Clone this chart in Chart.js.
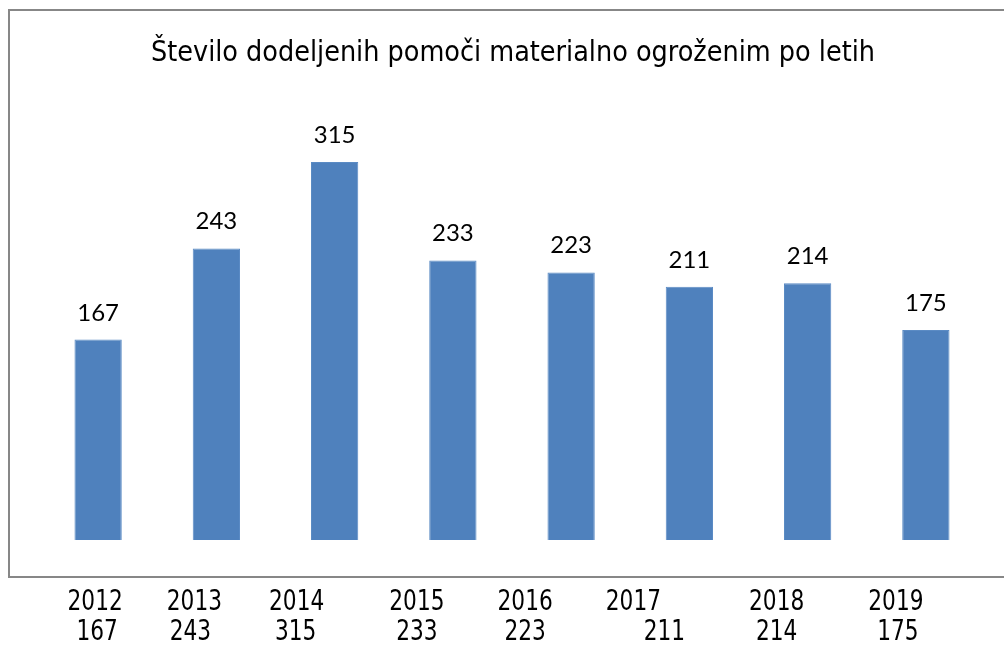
<!DOCTYPE html>
<html>
<head>
<meta charset="utf-8">
<script src="https://cdn.jsdelivr.net/npm/chart.js@4/dist/chart.umd.min.js"></script>
<style>
  html, body { margin: 0; padding: 0; background: #fff; }
  #wrap { width: 1004px; height: 646px; }
</style>
</head>
<body>
<div id="wrap"><canvas id="chart"></canvas></div>
<script>
const years = ['2012', '2013', '2014', '2015', '2016', '2017', '2018', '2019'];
const values = [167, 243, 315, 233, 223, 211, 214, 175];
const title = 'Število dodeljenih pomoči materialno ogroženim po letih';

// the labels under the frame are not centred on the bars in the original
const yearShift = [-3, -22, -38, -36, -46, -56, -31, -30];
const valueShift = [-1, -26, -39, -36, -46, -25, -31, -28];

const narrow = '"DejaVu Sans Condensed", "DejaVu Sans", sans-serif';

// draw text squeezed horizontally, like the original's Tahoma
function squeezed(ctx, text, x, y, sx) {
    ctx.save();
    ctx.translate(x, y);
    ctx.scale(sx, 1);
    ctx.fillText(text, 0, 0);
    ctx.restore();
}

const decorations = {
    id: 'decorations',
    beforeDraw(chart) {
        const ctx = chart.ctx;
        ctx.save();
        ctx.fillStyle = '#fff';
        ctx.fillRect(0, 0, chart.width, chart.height);
        ctx.strokeStyle = '#878787';
        ctx.lineWidth = 2;
        ctx.strokeRect(9, 10, 1020, 567);

        ctx.fillStyle = '#000';
        ctx.textAlign = 'center';
        ctx.textBaseline = 'alphabetic';
        ctx.font = '29px ' + narrow;
        squeezed(ctx, title, 513, 61, 0.98);
        ctx.restore();
    },
    afterDatasetsDraw(chart) {
        const ctx = chart.ctx;
        const bars = chart.getDatasetMeta(0).data;
        ctx.save();
        ctx.fillStyle = '#000';
        ctx.textAlign = 'center';
        ctx.textBaseline = 'alphabetic';

        ctx.font = '24px Lato, "Open Sans", sans-serif';
        bars.forEach((bar, i) => {
            ctx.fillText(String(values[i]), bar.x, bar.y - 19);
        });

        ctx.font = '28px ' + narrow;
        bars.forEach((bar, i) => {
            squeezed(ctx, years[i], bar.x + yearShift[i], 610, 0.86);
            squeezed(ctx, String(values[i]), bar.x + valueShift[i], 640, 0.86);
        });
        ctx.restore();
    }
};

new Chart(document.getElementById('chart'), {
    type: 'bar',
    data: {
        labels: years,
        datasets: [{
            data: values,
            backgroundColor: '#4F81BD',
            borderColor: '#5B8BC4',
            borderWidth: 1,
            categoryPercentage: 1,
            barPercentage: 0.4
        }]
    },
    options: {
        responsive: true,
        maintainAspectRatio: false,
        animation: false,
        layout: {
            padding: { left: 39, right: 19, top: 120, bottom: 106 }
        },
        scales: {
            x: { display: false },
            y: { display: false, min: 0, max: 350 }
        },
        plugins: {
            legend: { display: false },
            tooltip: { enabled: false }
        }
    },
    plugins: [decorations]
});
</script>
</body>
</html>
